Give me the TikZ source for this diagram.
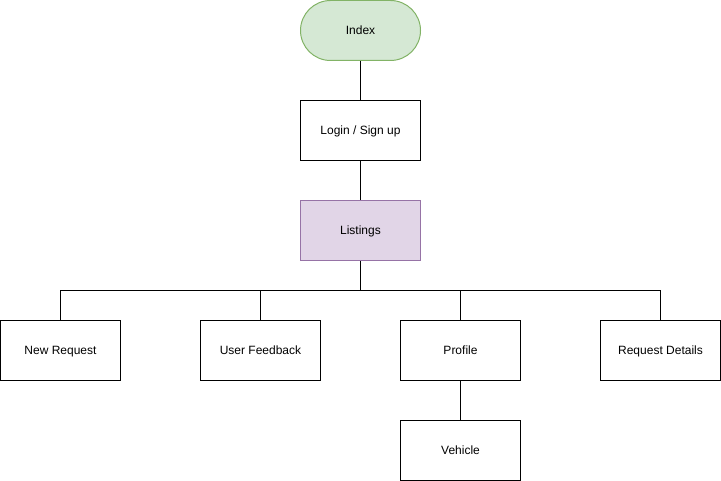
\documentclass[tikz,border=0pt]{standalone}
\usepackage{fontspec}
\setmainfont{Liberation Sans}
\definecolor{gfill}{HTML}{D5E8D4}
\definecolor{gdraw}{HTML}{82B366}
\definecolor{pfill}{HTML}{E1D5E7}
\definecolor{pdraw}{HTML}{9673A6}
\begin{document}
\begin{tikzpicture}[x=0.75pt,y=-0.75pt,
  box/.style={draw=black,line width=0.75pt,minimum width=90pt,minimum height=45pt,inner sep=0pt,text height=7.6pt,text depth=1.4pt,font=\fontsize{9pt}{11pt}\selectfont,fill=white},
  term/.style={box,rounded corners=22.5pt,fill=gfill,draw=gdraw},
  purp/.style={box,fill=pfill,draw=pdraw},
  conn/.style={line width=0.75pt}]
\useasboundingbox (0,0) rectangle (721,481);
\node[term] (index) at (360.5,30.5) {Index};
\node[box] (login) at (360.5,130.5) {Login / Sign up};
\node[purp] (list) at (360.5,230.5) {Listings};
\node[box] (newreq) at (60.5,350.5) {New Request};
\node[box] (feed) at (260.5,350.5) {User Feedback};
\node[box] (prof) at (460.5,350.5) {Profile};
\node[box] (det) at (660.5,350.5) {Request Details};
\node[box] (veh) at (460.5,450.5) {Vehicle};
\coordinate (bus) at (360.5,290.5);
\draw[conn] (index) -- (login);
\draw[conn] (login) -- (list);
\draw[conn] (list) -- (bus);
\draw[conn] (bus) -| (newreq);
\draw[conn] (bus) -| (feed);
\draw[conn] (bus) -| (prof);
\draw[conn] (bus) -| (det);
\draw[conn] (prof) -- (veh);
\end{tikzpicture}
\end{document}
